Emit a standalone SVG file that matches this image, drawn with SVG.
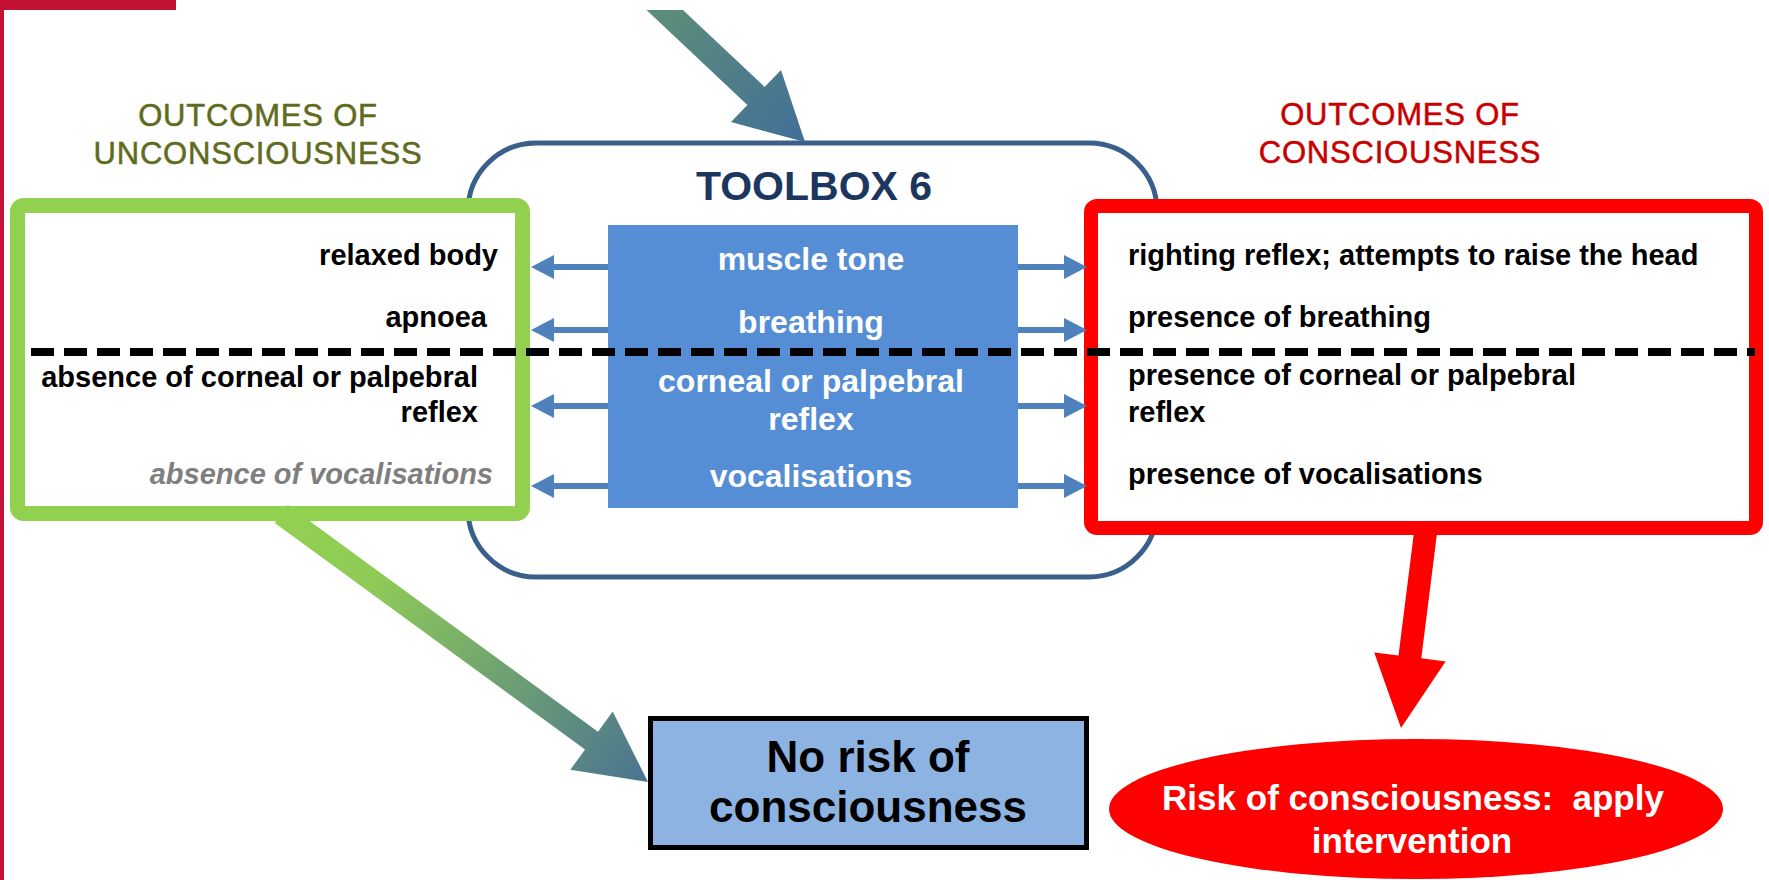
<svg xmlns="http://www.w3.org/2000/svg" width="1769" height="880" viewBox="0 0 1769 880">
  <style>
    text { font-family: "Liberation Sans", Arial, sans-serif; }
    .hd { font-size: 31px; letter-spacing: 0.8px; text-anchor: middle; stroke-width: 0.5px; }
    .hd-unc { fill: #5f6b1e; stroke: #5f6b1e; }
    .hd-con { fill: #c80000; stroke: #c80000; }
    .item { font-size: 29px; font-weight: bold; fill: #000; }
    .item.muted { font-style: italic; fill: #7f7f7f; }
    .left { text-anchor: end; }
    .check { font-size: 32px; font-weight: bold; fill: #fff; text-anchor: middle; }
    .small-arrow { stroke: #4f81bd; stroke-width: 6; fill: none; marker-end: url(#head); }
  </style>
  <defs>
    <marker id="head" viewBox="0 0 23 24" refX="0" refY="12" markerWidth="23" markerHeight="24" markerUnits="userSpaceOnUse" orient="auto">
      <path d="M0,0 L23,12 L0,24 Z" fill="#4f81bd"/>
    </marker>
    <linearGradient id="gTop" gradientUnits="userSpaceOnUse" x1="665" y1="10" x2="805" y2="142">
      <stop offset="0" stop-color="#5c8d7a"/>
      <stop offset="1" stop-color="#416f98"/>
    </linearGradient>
    <linearGradient id="gGreen" gradientUnits="userSpaceOnUse" x1="281" y1="514" x2="648" y2="782">
      <stop offset="0" stop-color="#92d050"/>
      <stop offset="0.25" stop-color="#8fcb56"/>
      <stop offset="1" stop-color="#4a7391"/>
    </linearGradient>
  </defs>

  <!-- page frame -->
  <rect x="0" y="0" width="4" height="880" fill="#c41237"/>
  <rect x="0" y="0" width="176" height="10" fill="#c41237"/>

  <!-- column headings -->
  <g id="heading-unconsciousness">
    <text class="hd hd-unc" x="258" y="126">OUTCOMES OF</text>
    <text class="hd hd-unc" x="258" y="164">UNCONSCIOUSNESS</text>
  </g>
  <g id="heading-consciousness">
    <text class="hd hd-con" x="1400" y="125">OUTCOMES OF</text>
    <text class="hd hd-con" x="1400" y="163">CONSCIOUSNESS</text>
  </g>

  <!-- toolbox frame -->
  <g id="toolbox">
    <rect x="468" y="143" width="689" height="434" rx="68" ry="68" fill="#fff" stroke="#3a5f8c" stroke-width="5"/>
    <text x="814" y="200" font-size="41" font-weight="bold" fill="#1c3660" text-anchor="middle">TOOLBOX 6</text>
  </g>

  <!-- checks performed -->
  <g id="checks">
    <rect x="608" y="225" width="410" height="283" fill="#558ed5"/>
    <text class="check" x="811" y="270">muscle tone</text>
    <text class="check" x="811" y="333">breathing</text>
    <text class="check" x="811" y="392">corneal or palpebral</text>
    <text class="check" x="811" y="430">reflex</text>
    <text class="check" x="811" y="487">vocalisations</text>
  </g>

  <!-- unconscious outcomes -->
  <g id="unconscious-box">
    <rect x="17.5" y="205.5" width="505" height="308" rx="6" fill="#fff" stroke="#92d050" stroke-width="15"/>
    <text class="item left" x="498" y="265">relaxed body</text>
    <text class="item left" x="487" y="327">apnoea</text>
    <text class="item left" x="478" y="387">absence of corneal or palpebral</text>
    <text class="item left" x="478" y="422">reflex</text>
    <text class="item left muted" x="493" y="484">absence of vocalisations</text>
  </g>

  <!-- conscious outcomes -->
  <g id="conscious-box">
    <rect x="1091" y="206" width="665" height="322" rx="6" fill="#fff" stroke="#ff0000" stroke-width="14"/>
    <text class="item" x="1128" y="265">righting reflex; attempts to raise the head</text>
    <text class="item" x="1128" y="327">presence of breathing</text>
    <text class="item" x="1128" y="385">presence of corneal or palpebral</text>
    <text class="item" x="1128" y="422">reflex</text>
    <text class="item" x="1128" y="484">presence of vocalisations</text>
  </g>

  <!-- result: no risk -->
  <g id="no-risk">
    <rect x="650.5" y="718.5" width="436" height="129" fill="#8db3e2" stroke="#000" stroke-width="5"/>
    <text x="868" y="772" font-size="44" font-weight="bold" fill="#000" text-anchor="middle">No risk of</text>
    <text x="868" y="822" font-size="44" font-weight="bold" fill="#000" text-anchor="middle">consciousness</text>
  </g>

  <!-- result: risk -->
  <g id="risk">
    <ellipse cx="1416" cy="809" rx="307" ry="70" fill="#ff0000"/>
    <text x="1413" y="810" font-size="35" font-weight="bold" fill="#fff" text-anchor="middle" xml:space="preserve">Risk of consciousness:  apply</text>
    <text x="1412" y="853" font-size="35" font-weight="bold" fill="#fff" text-anchor="middle">intervention</text>
  </g>

  <!-- connectors -->
  <g id="connectors">
    <polygon points="646.5,10 683,10 764.6,86.9 781,70 805,142 731,122 747.4,105.1" fill="url(#gTop)"/>
    <polygon points="287.8,505.1 598,731.8 612.7,711.6 648,782 570.3,769.8 585,749.6 274.8,522.9" fill="url(#gGreen)"/>
    <polygon points="1414.7,526.6 1437.5,529.4 1421.3,658.3 1445.6,661.4 1401,728 1374.2,652.4 1398.5,655.5" fill="#ff0000"/>

    <line class="small-arrow" x1="608" y1="267" x2="554" y2="267"/>
    <line class="small-arrow" x1="608" y1="330" x2="554" y2="330"/>
    <line class="small-arrow" x1="608" y1="406" x2="554" y2="406"/>
    <line class="small-arrow" x1="608" y1="486" x2="554" y2="486"/>
    <line class="small-arrow" x1="1018" y1="267" x2="1064" y2="267"/>
    <line class="small-arrow" x1="1018" y1="330" x2="1064" y2="330"/>
    <line class="small-arrow" x1="1018" y1="406" x2="1064" y2="406"/>
    <line class="small-arrow" x1="1018" y1="486" x2="1064" y2="486"/>
  </g>

  <!-- separator between the two groups of checks -->
  <line x1="31" y1="352" x2="1755" y2="352" stroke="#000" stroke-width="8" stroke-dasharray="23 10"/>
</svg>
